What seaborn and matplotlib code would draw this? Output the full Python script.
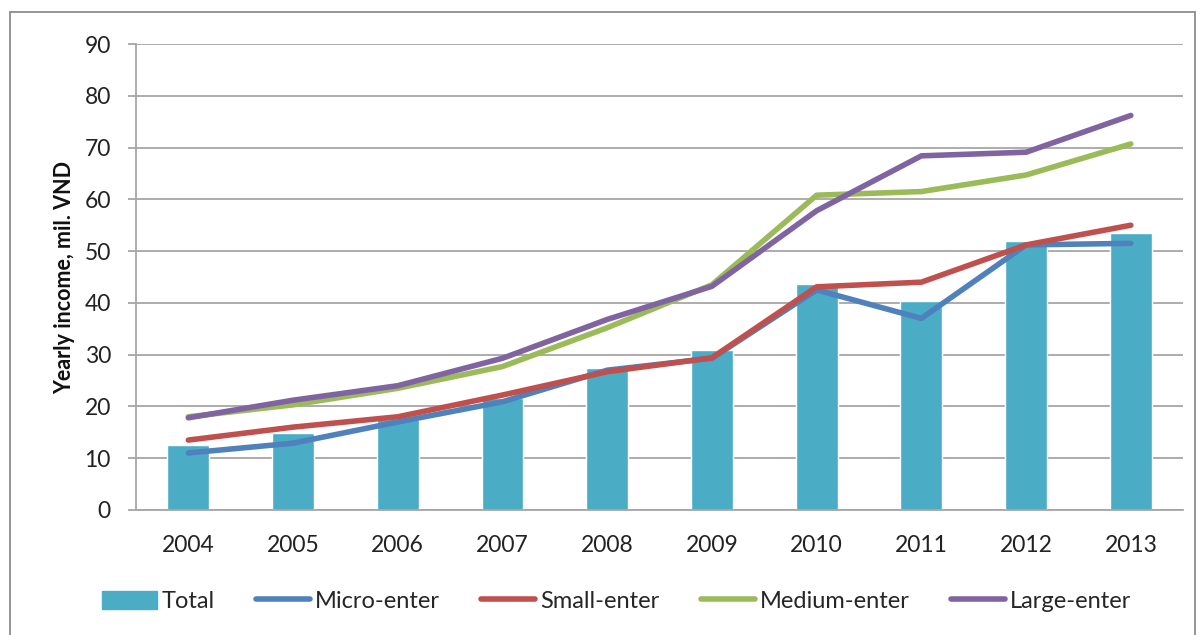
import matplotlib
matplotlib.use("Agg")
import matplotlib.pyplot as plt
import matplotlib.patches as mpatches
from matplotlib.lines import Line2D
import numpy as np
import pandas as pd
import seaborn as sns

years = ["2004", "2005", "2006", "2007", "2008", "2009", "2010", "2011", "2012", "2013"]
total = [12.5, 14.8, 17.6, 21.6, 27.5, 30.9, 43.7, 40.4, 52.0, 53.5]
micro = [11.0, 12.9, 17.0, 20.9, 27.0, 29.3, 42.5, 37.0, 51.2, 51.5]
small = [13.5, 16.0, 18.0, 22.2, 26.7, 29.4, 43.1, 44.0, 51.2, 55.0]
medium = [18.0, 20.3, 23.5, 27.7, 35.2, 43.5, 60.8, 61.5, 64.7, 70.7]
large = [17.8, 21.2, 24.0, 29.3, 36.8, 43.2, 57.8, 68.4, 69.1, 76.2]

series_names = ["Micro-enter", "Small-enter", "Medium-enter", "Large-enter"]
series_colors = ["#4F81BD", "#C0504D", "#9BBB59", "#8064A2"]
bar_color = "#4BACC6"

sns.set_theme(style="white")
plt.rcParams["font.family"] = ["Lato", "DejaVu Sans"]

fig = plt.figure(figsize=(12, 6.35), dpi=100)
ax = fig.add_axes([0.1133, 0.1969, 0.8727, 0.7338])

bars_df = pd.DataFrame({"year": years, "value": total})
sns.barplot(data=bars_df, x="year", y="value", color=bar_color, width=0.4,
            saturation=1, ax=ax, zorder=2)

lines_df = pd.DataFrame({
    "year": years * 4,
    "value": micro + small + medium + large,
    "series": np.repeat(series_names, len(years)),
})
sns.lineplot(data=lines_df, x="year", y="value", hue="series",
             palette=dict(zip(series_names, series_colors)), linewidth=4.0,
             sort=False, legend=False, ax=ax, zorder=3)
for ln in ax.get_lines():
    ln.set_solid_capstyle("round")
    ln.set_solid_joinstyle("round")

grid_c = "#A6A6A6"
ax.set_ylim(0, 90)
ax.set_xlim(-0.5, 9.5)
ax.set_yticks(range(0, 91, 10))
ax.yaxis.grid(True, color=grid_c, linewidth=1.3, zorder=0)
ax.set_axisbelow(True)
for s in ["top", "right"]:
    ax.spines[s].set_visible(False)
for s in ["left", "bottom"]:
    ax.spines[s].set_color(grid_c)
    ax.spines[s].set_linewidth(1.3)

ax.set_xticks(np.arange(-0.5, 10, 1), minor=True)
ax.tick_params(axis="x", which="major", length=0, pad=18, labelsize=16.5, colors="#222222")
ax.tick_params(axis="x", which="minor", length=6, width=1.3, color=grid_c, direction="out")
ax.tick_params(axis="y", which="major", left=True, length=6, width=1.3, color=grid_c,
               direction="out", labelsize=16.5, pad=12, labelcolor="#222222")

ax.set_xlabel("")
ax.set_ylabel("Yearly income, mil. VND", fontsize=15.5, fontweight="bold",
              color="#111111", labelpad=7)

handles = [mpatches.Patch(color=bar_color, label="Total")]
for n, c in zip(series_names, series_colors):
    handles.append(Line2D([0], [0], color=c, linewidth=4.0, solid_capstyle="round", label=n))
fig.legend(handles=handles, loc="center", bbox_to_anchor=(0.514, 0.053), ncol=5,
           frameon=False, fontsize=17, handlelength=2.3, handletextpad=0.2,
           columnspacing=1.75, handleheight=0.8)

border = mpatches.Rectangle((10 / 1200, -0.05), 1185 / 1200, 1 - 12 / 635 + 0.05,
                            transform=fig.transFigure, fill=False,
                            edgecolor="#8C8C8C", linewidth=1.3)
fig.patches.append(border)

fig.savefig("out.png", dpi=100)
